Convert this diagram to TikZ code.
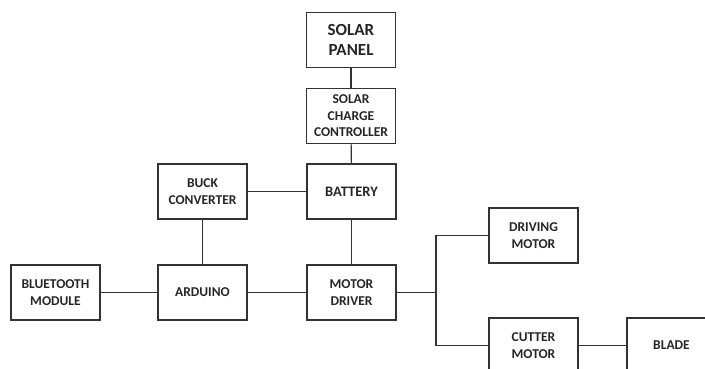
\documentclass[tikz,border=0pt]{standalone}
\usepackage{fontspec}
\setmainfont{Carlito}
\begin{document}
\begin{tikzpicture}[x=1pt,y=-1pt,
  blk/.style={draw=black!80,line width=1.1pt,minimum width=89pt,minimum height=55pt,
    inner sep=1pt,align=center,text=black!85,font=\fontsize{13.5}{16.5}\selectfont\bfseries},
  wire/.style={draw=black!80,line width=1.1pt}]
\clip (0,0) rectangle (705,368);
\node[blk,font=\fontsize{17}{20.5}\selectfont\bfseries] (panel) at (351,40) {SOLAR\\PANEL};
\node[blk] (scc) at (351,116) {SOLAR\\CHARGE\\CONTROLLER};
\node[blk,font=\fontsize{14.5}{17}\selectfont\bfseries] (bat) at (351.5,191.5) {BATTERY};
\node[blk] (buck) at (202.5,191.5) {BUCK\\CONVERTER};
\node[blk] (bt) at (55.5,292.5) {BLUETOOTH\\MODULE};
\node[blk] (ard) at (202.5,292.5) {ARDUINO};
\node[blk] (md) at (351.5,292.5) {MOTOR\\DRIVER};
\node[blk] (dm) at (533.5,235.5) {DRIVING\\MOTOR};
\node[blk] (cm) at (533.5,345.5) {CUTTER\\MOTOR};
\node[blk] (blade) at (671.5,345.5) {BLADE};
\coordinate (jn) at (436,292.5);
\draw[wire] (panel) -- (scc);
\draw[wire] (scc) -- (bat);
\draw[wire] (buck) -- (bat);
\draw[wire] (buck) -- (ard);
\draw[wire] (bat) -- (md);
\draw[wire] (bt) -- (ard);
\draw[wire] (ard) -- (md);
\draw[wire] (md) -- (jn);
\draw[wire] (jn) |- (dm.west);
\draw[wire] (jn) |- (cm.west);
\draw[wire] (cm) -- (blade);
\end{tikzpicture}
\end{document}
